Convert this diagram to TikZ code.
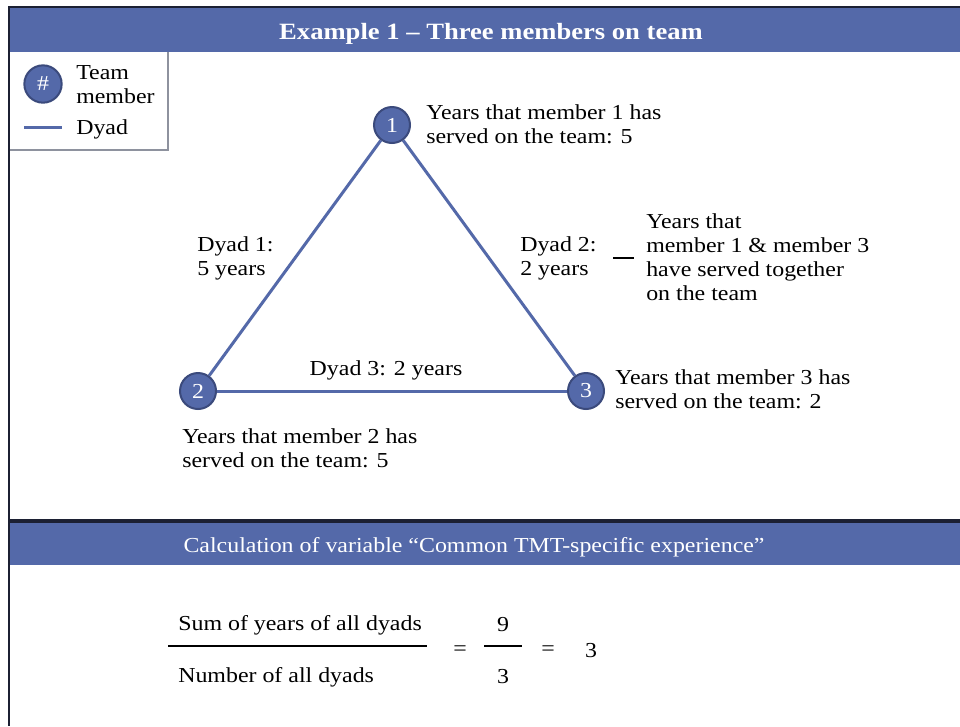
\documentclass[tikz,border=0pt]{standalone}
\usepackage{fontspec}
\setmainfont{Liberation Serif}[FakeStretch=1.12]
\newfontfamily\titlefont{Liberation Serif}[FakeStretch=1.14]
\definecolor{hdrblue}{HTML}{5469A9}
\definecolor{circborder}{HTML}{3B4A7C}
\definecolor{darkline}{HTML}{1C2033}
\definecolor{legendgray}{HTML}{8E929E}
\begin{document}
\begin{tikzpicture}[x=0.75pt,y=-0.75pt,
  font=\fontsize{16}{18}\selectfont,
  member/.style={circle, fill=hdrblue, draw=circborder, line width=1.5pt, minimum size=27pt, inner sep=0pt, text=white},
  lbl/.style={anchor=west, align=left, inner sep=0pt},
  dyadline/.style={draw=hdrblue, line width=2.25pt},
  fracline/.style={draw=black, line width=1.5pt}]
\useasboundingbox (0,0) rectangle (960,726);
\fill[white] (0,0) rectangle (960,726);
% top header
\fill[hdrblue] (9,8) rectangle (960,52);
\draw[darkline, line width=1pt] (8,7) -- (960,7);
\node[text=white, font=\titlefont\bfseries\fontsize{17.5}{18}\selectfont, inner sep=0pt] (title) at (491,33.5) {Example 1 – Three members on team};
% left border
\draw[darkline, line width=1.5pt] (9,7) -- (9,726);
% legend
\fill[white] (10,53) rectangle (168,150);
\draw[legendgray, line width=1.5pt] (10,150) -- (168,150) -- (168,52);
\node[member, minimum size=28pt] (lgm) at (43,84) {\#};
\node[lbl] (lgmt) at (76,85) {Team\\member};
\coordinate (la) at (24,127);
\coordinate (lb) at (62,127);
\draw[dyadline] (la) -- (lb);
\node[lbl] (lgdt) at (76,129) {Dyad};
% members
\node[member] (m1) at (392,125) {1};
\node[member] (m2) at (198,391) {2};
\node[member] (m3) at (586,391) {3};
\draw[dyadline] (m1) -- (m2);
\draw[dyadline] (m1) -- (m3);
\draw[dyadline] (m2) -- (m3);
% labels
\node[lbl] (t1) at (426,124) {Years that member 1 has\\served on the team: 5};
\node[lbl] (t2) at (182,448) {Years that member 2 has\\served on the team: 5};
\node[lbl] (t3) at (615,389) {Years that member 3 has\\served on the team: 2};
\node[lbl] (d1) at (197,258) {Dyad 1:\\5 years};
\node[lbl] (d2) at (520,258) {Dyad 2:\\2 years};
\node[inner sep=0pt] (d3) at (386,370) {Dyad 3: 2 years};
\coordinate (da) at (613,258);
\coordinate (db) at (634,258);
\draw[black, line width=1.2pt] (da) -- (db);
\node[lbl] (d2x) at (646,257) {Years that\\member 1 \& member 3\\have served together\\on the team};
% bottom section
\draw[darkline, line width=2.5pt] (9,521) -- (960,521);
\fill[hdrblue] (10,523) rectangle (960,565);
\node[text=white, inner sep=0pt] (calc) at (474,547.5) {Calculation of variable “Common TMT-specific experience”};
% fraction
\node[lbl] (num) at (178,625) {Sum of years of all dyads};
\node[lbl] (den) at (178,677) {Number of all dyads};
\coordinate (fa) at (168,646);
\coordinate (fb) at (427,646);
\draw[fracline] (fa) -- (fb);
\node[inner sep=0pt] (eq1) at (460,651) {=};
\node[inner sep=0pt] (n9) at (503,625) {9};
\node[inner sep=0pt] (n3) at (503,677) {3};
\coordinate (fc) at (484,646);
\coordinate (fd) at (522,646);
\draw[fracline] (fc) -- (fd);
\node[inner sep=0pt] (eq2) at (548,651) {=};
\node[inner sep=0pt] (res) at (591,651) {3};
\end{tikzpicture}
\end{document}
